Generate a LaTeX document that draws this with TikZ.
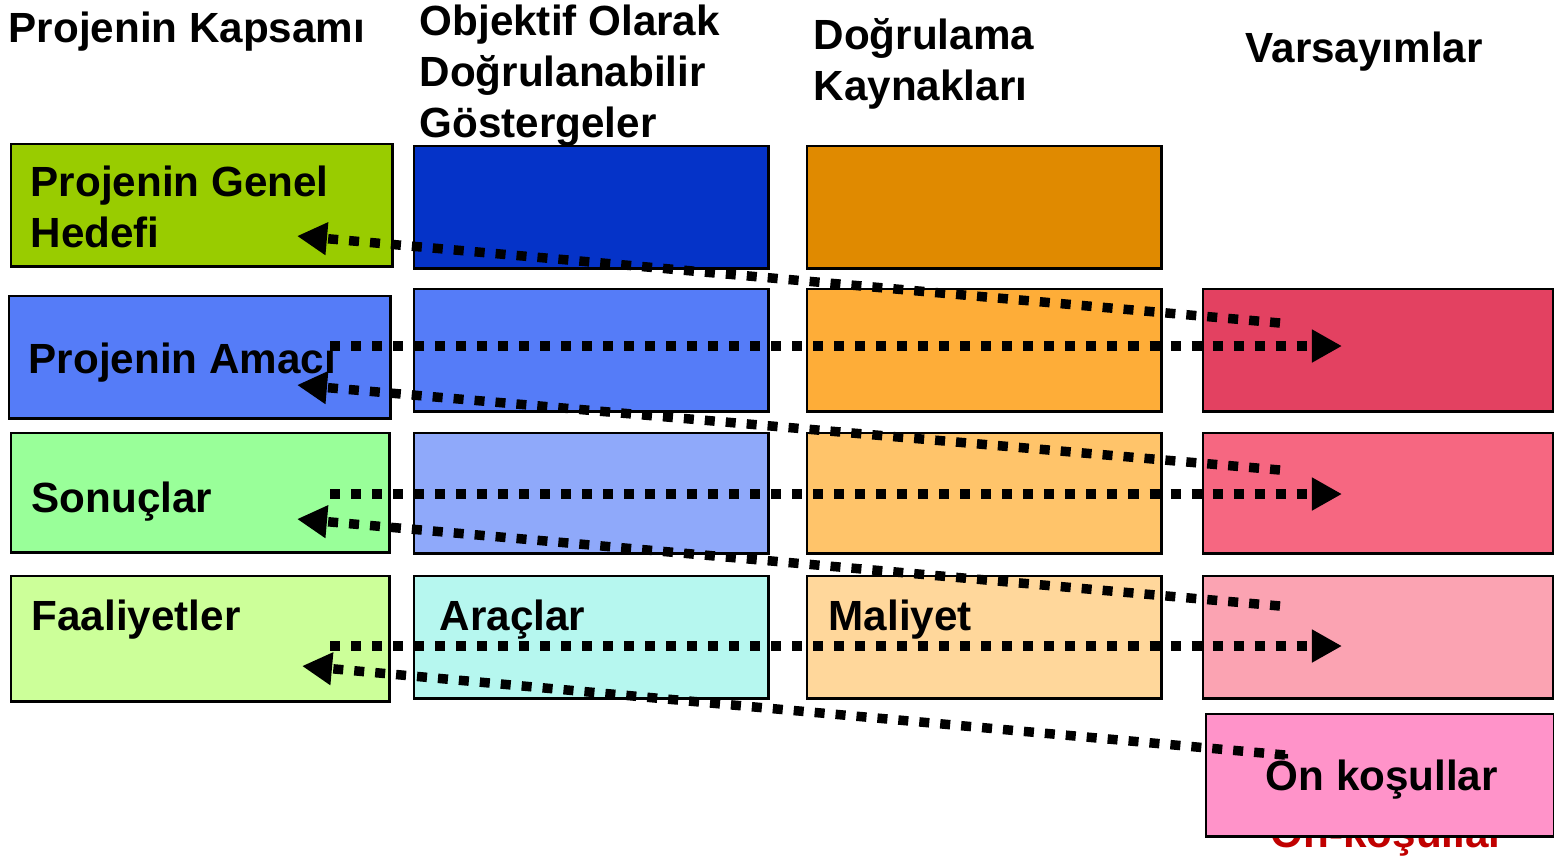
\documentclass[tikz,border=0pt]{standalone}
\usepackage{fontspec}
\setmainfont{Liberation Sans}
\usepackage{xcolor}
\usepackage{tikz}
\usetikzlibrary{arrows.meta}

\definecolor{hedefc}{HTML}{99CC00}
\definecolor{amacc}{HTML}{557CF8}
\definecolor{sonucc}{HTML}{99FF99}
\definecolor{faalc}{HTML}{CCFF99}
\definecolor{gost1c}{HTML}{0533C8}
\definecolor{gost3c}{HTML}{8FA9FA}
\definecolor{gost4c}{HTML}{B6F7EF}
\definecolor{kayn1c}{HTML}{E08A00}
\definecolor{kayn2c}{HTML}{FEAD38}
\definecolor{kayn3c}{HTML}{FFC46A}
\definecolor{kayn4c}{HTML}{FFD79B}
\definecolor{vars2c}{HTML}{E34161}
\definecolor{vars3c}{HTML}{F66781}
\definecolor{vars4c}{HTML}{FBA3B2}
\definecolor{onkosc}{HTML}{FF93C9}
\definecolor{onkosred}{HTML}{C00000}

\begin{document}
\begin{tikzpicture}[x=0.01cm, y=-0.01cm,
  box/.style={draw=black, line width=0.7pt, anchor=north west, inner sep=0pt},
  lbl/.style={anchor=base west, inner sep=0pt, align=left, font=\fontsize{12}{14.4}\selectfont\bfseries},
  dots/.style={line width=0.095cm, dash pattern=on 0.1cm off 0.11cm, -{Triangle[length=0.3cm, width=0.31cm]}}]
\useasboundingbox (0,0) rectangle (1554,856);

% column headers (base = last line)
\node[lbl] (kapsam) at (8,42) {Projenin Kapsamı};
\node[lbl] (ogdg) at (419,137) {Objektif Olarak\\Doğrulanabilir\\Göstergeler};
\node[lbl] (dkaynak) at (813,100) {Doğrulama\\Kaynakları};
\node[lbl] (varsay) at (1245,62) {Varsayımlar};

% hidden label under the last box
\node[lbl, text=onkosred] (onkosalt) at (1270,847) {Ön-koşullar};

% first column
\node[box, fill=hedefc, minimum width=3.81cm, minimum height=1.22cm] (hedef) at (10,143) {};
\node[box, fill=amacc, minimum width=3.81cm, minimum height=1.22cm] (amac) at (8,295) {};
\node[box, fill=sonucc, minimum width=3.78cm, minimum height=1.19cm] (sonuc) at (10,432) {};
\node[box, fill=faalc, minimum width=3.78cm, minimum height=1.25cm] (faal) at (10,575) {};

% second column
\node[box, fill=gost1c, minimum width=3.54cm, minimum height=1.22cm] (gost1) at (413,145) {};
\node[box, fill=amacc, minimum width=3.54cm, minimum height=1.22cm] (gost2) at (413,288) {};
\node[box, fill=gost3c, minimum width=3.54cm, minimum height=1.20cm] (gost3) at (413,432) {};
\node[box, fill=gost4c, minimum width=3.54cm, minimum height=1.22cm] (gost4) at (413,575) {};

% third column
\node[box, fill=kayn1c, minimum width=3.54cm, minimum height=1.22cm] (kayn1) at (806,145) {};
\node[box, fill=kayn2c, minimum width=3.54cm, minimum height=1.22cm] (kayn2) at (806,288) {};
\node[box, fill=kayn3c, minimum width=3.54cm, minimum height=1.20cm] (kayn3) at (806,432) {};
\node[box, fill=kayn4c, minimum width=3.54cm, minimum height=1.22cm] (kayn4) at (806,575) {};

% fourth column
\node[box, fill=vars2c, minimum width=3.50cm, minimum height=1.22cm] (vars2) at (1202,288) {};
\node[box, fill=vars3c, minimum width=3.50cm, minimum height=1.20cm] (vars3) at (1202,432) {};
\node[box, fill=vars4c, minimum width=3.50cm, minimum height=1.22cm] (vars4) at (1202,575) {};
\node[box, fill=onkosc, minimum width=3.48cm, minimum height=1.22cm] (onkos) at (1205,713) {};

% box labels
\node[lbl] (hedefyazi) at (30,247) {Projenin Genel\\Hedefi};
\node[lbl] (amacyazi) at (28,373) {Projenin Amacı};
\node[lbl] (sonucyazi) at (31,512) {Sonuçlar};
\node[lbl] (faalyazi) at (31,630) {Faaliyetler};
\node[lbl] (aracyazi) at (439,630) {Araçlar};
\node[lbl] (maliyetyazi) at (828,630) {Maliyet};
\node[lbl] (onkosyazi) at (1265,790) {Ön koşullar};

% arrow ends
\coordinate (amacsag) at (330,346);
\coordinate (vars2ok) at (1342,346);
\coordinate (sonucsag) at (330,494);
\coordinate (vars3ok) at (1342,494);
\coordinate (faalsag) at (330,646);
\coordinate (vars4ok) at (1342,646);
\coordinate (vars2sol) at (1280,323);
\coordinate (hedefok) at (297,236);
\coordinate (vars3sol) at (1280,470);
\coordinate (amacok) at (297,385);
\coordinate (vars4sol) at (1280,606);
\coordinate (sonucok) at (297,519);
\coordinate (onkossol) at (1285,755);
\coordinate (faalok) at (302,666);

% dotted arrows
\draw[dots] (amacsag) -- (vars2ok);
\draw[dots] (sonucsag) -- (vars3ok);
\draw[dots] (faalsag) -- (vars4ok);
\draw[dots] (vars2sol) -- (hedefok);
\draw[dots] (vars3sol) -- (amacok);
\draw[dots] (vars4sol) -- (sonucok);
\draw[dots] (onkossol) -- (faalok);
\end{tikzpicture}
\end{document}
